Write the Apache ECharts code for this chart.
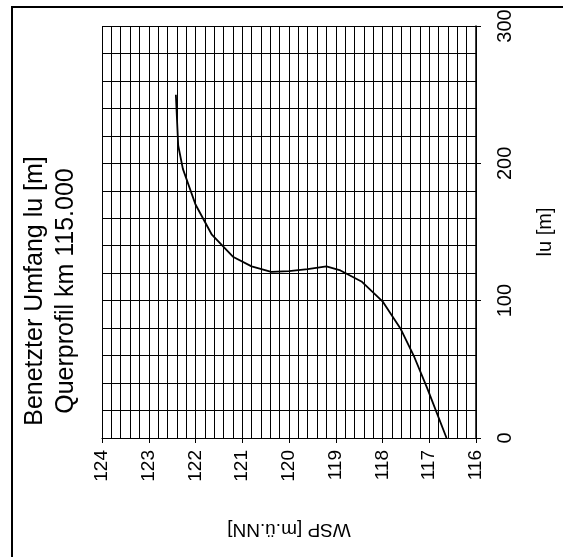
<!DOCTYPE html>
<html>
<head>
<meta charset="utf-8">
<script src="https://cdn.jsdelivr.net/npm/echarts@6/dist/echarts.min.js"></script>
<style>html,body{margin:0;padding:0;background:#fff;}#c{width:563px;height:557px;}</style>
</head>
<body>
<div id="c"></div>
<script>
// WSP [m.ü.NN] values and corresponding wetted perimeter lu [m]
const wsp = [116.63, 117.04, 117.32, 117.62, 118.0, 118.45, 118.9, 119.2, 119.6, 120.0, 120.38, 120.8, 121.2, 121.65, 122.0, 122.27, 122.37, 122.42];
const lu  = [0, 36, 59, 80, 99.5, 114, 122, 125, 123, 121.5, 121, 125, 132, 148, 170, 196, 213, 250];
const titleLines = ['Benetzter Umfang lu [m]', 'Querprofil km 115.000'];
const xName = 'WSP [m.ü.NN]';
const yName = 'lu [m]';

const font = 'Liberation Sans, Arial, sans-serif';
const chart = echarts.init(document.getElementById('c'), null, {renderer: 'canvas'});
const pts = wsp.map((w, i) => [w, lu[i]]);
chart.setOption({
  animation: false,
  backgroundColor: '#fff',
  grid: {left: 102, right: 86, top: 26, bottom: 119, containLabel: false},
  xAxis: {
    type: 'value', min: 116, max: 124, interval: 1, inverse: true, position: 'bottom',
    axisLine: {show: true, onZero: false, lineStyle: {color: '#000', width: 1.2}},
    axisTick: {show: true, length: 5, lineStyle: {color: '#000'}},
    axisLabel: {rotate: 90, fontSize: 19, color: '#000', fontFamily: font, margin: 12},
    splitLine: {show: true, lineStyle: {color: '#000', width: 1}},
    minorTick: {show: false, splitNumber: 5},
    minorSplitLine: {show: true, lineStyle: {color: '#000', width: 1}},
    name: xName, nameLocation: 'middle', nameRotate: 180, nameGap: 82,
    nameTextStyle: {fontSize: 19, color: '#000', fontFamily: font}
  },
  yAxis: {
    type: 'value', min: 0, max: 300, interval: 100, position: 'right',
    axisLine: {show: true, onZero: false, lineStyle: {color: '#000', width: 1.5}},
    axisTick: {show: true, length: 5, lineStyle: {color: '#000'}},
    axisLabel: {rotate: 90, fontSize: 20, color: '#000', fontFamily: font, margin: 19},
    splitLine: {show: true, lineStyle: {color: '#000', width: 1}},
    minorTick: {show: false, splitNumber: 5},
    minorSplitLine: {show: true, lineStyle: {color: '#000', width: 1}},
    name: yName, nameLocation: 'middle', nameRotate: 90, nameGap: 59,
    nameTextStyle: {fontSize: 20, color: '#000', fontFamily: font}
  },
  series: [{
    type: 'line', data: pts, symbol: 'none', smooth: false,
    lineStyle: {color: '#000', width: 1.8}
  }],
  graphic: [
    {type: 'rect', shape: {x: 12, y: 7, width: 700, height: 700}, style: {fill: null, stroke: '#000', lineWidth: 2}, silent: true, z: 100},
    {type: 'text', x: 51, y: 291, rotation: Math.PI / 2, z: 100,
     style: {text: titleLines.join('\n'), font: '25px ' + font, fill: '#000', align: 'center', verticalAlign: 'middle', lineHeight: 31}}
  ]
});
</script>
</body>
</html>
